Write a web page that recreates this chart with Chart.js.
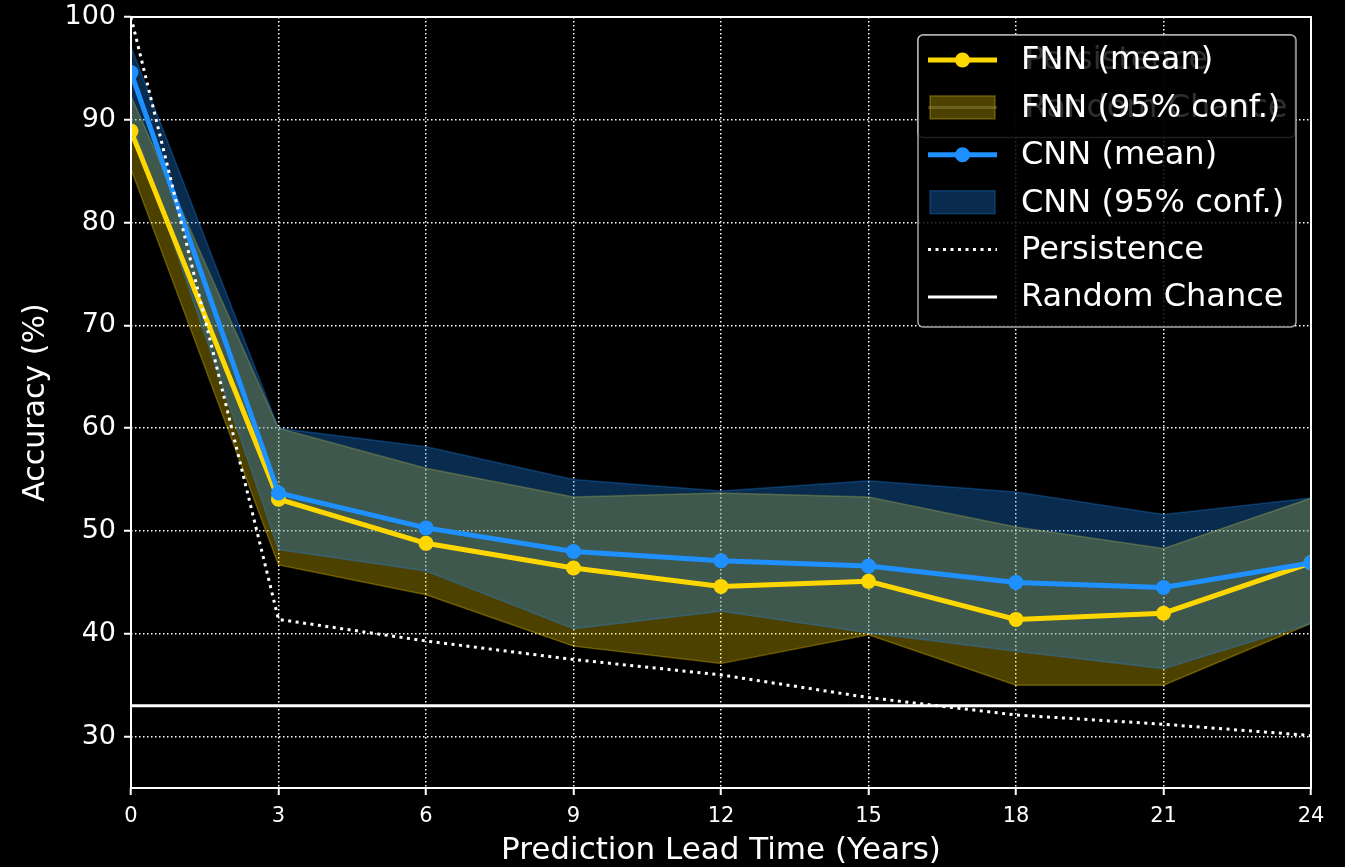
<!DOCTYPE html>
<html>
<head>
<meta charset="utf-8">
<script src="https://cdn.jsdelivr.net/npm/chart.js@4.4.1/dist/chart.umd.min.js"></script>
<style>
  html, body { margin: 0; padding: 0; background: #000; }
  #wrap { width: 1345px; height: 867px; }
</style>
</head>
<body>
<div id="wrap"><canvas id="accuracyChart" width="1345" height="867"></canvas></div>
<script>
// lead times (years) and tick labels
const leadYears = [0, 3, 6, 9, 12, 15, 18, 21, 24];
const yTicks = [30, 40, 50, 60, 70, 80, 90, 100];

// FNN accuracy (%)
const fnnMean  = [88.9, 53.1, 48.8, 46.4, 44.6, 45.1, 41.4, 42.0, 46.9];
const fnnUpper = [92.3, 60.0, 56.1, 53.3, 53.7, 53.3, 50.4, 48.3, 53.2];
const fnnLower = [85.2, 46.7, 43.8, 38.8, 37.1, 39.9, 35.0, 35.0, 41.0];

// CNN accuracy (%)
const cnnMean  = [94.6, 53.7, 50.3, 48.0, 47.1, 46.6, 45.0, 44.5, 46.9];
const cnnUpper = [97.1, 60.0, 58.2, 55.0, 53.9, 54.9, 53.8, 51.6, 53.2];
const cnnLower = [90.0, 48.2, 46.1, 40.5, 42.2, 40.1, 38.3, 36.6, 41.0];

// baselines
const persistence = [100, 41.4, 39.3, 37.5, 36.0, 33.8, 32.1, 31.2, 30.1];
const randomChance = 33.0;

const GOLD = '#FFD700';
const BLUE = '#1E90FF';
const GOLD_BAND = 'rgba(255,215,0,0.3)';
const BLUE_BAND = 'rgba(30,144,255,0.3)';

const pts = arr => arr.map((v, i) => ({x: leadYears[i], y: v}));

Chart.defaults.font.family = "'DejaVu Sans', sans-serif";
Chart.defaults.color = '#ffffff';

// legend entries, drawn like the matplotlib legend (a second, older legend sits underneath)
const ghostEntries = [
    {label: 'Persistence', kind: 'dotted', color: '#ffffff'},
    {label: 'Random Chance', kind: 'line', color: '#ffffff'}
];
const legendEntries = [
    {label: 'FNN (mean)', kind: 'marker', color: GOLD},
    {label: 'FNN (95% conf.)', kind: 'patch', color: GOLD_BAND},
    {label: 'CNN (mean)', kind: 'marker', color: BLUE},
    {label: 'CNN (95% conf.)', kind: 'patch', color: BLUE_BAND},
    {label: 'Persistence', kind: 'dotted', color: '#ffffff'},
    {label: 'Random Chance', kind: 'line', color: '#ffffff'}
];

function drawLegend(ctx, entries, left, top, right, textX, alpha) {
    const rowStep = 47.4;
    const bottom = top + 25 + rowStep * (entries.length - 1) + 30;
    ctx.save();
    ctx.beginPath();
    ctx.roundRect(left, top, right - left, bottom - top, 5);
    ctx.fillStyle = 'rgba(0,0,0,' + alpha + ')';
    ctx.fill();
    ctx.lineWidth = 1.5;
    ctx.strokeStyle = 'rgba(204,204,204,' + alpha + ')';
    ctx.stroke();
    entries.forEach((e, i) => {
        const cy = top + 25 + i * rowStep;
        const x0 = left + 10, x1 = left + 79;
        if (e.kind === 'patch') {
            ctx.fillStyle = e.color;
            ctx.fillRect(x0 + 2, cy - 11.5, x1 - x0 - 4, 23);
            ctx.strokeStyle = e.color;
            ctx.lineWidth = 1.5;
            ctx.strokeRect(x0 + 2, cy - 11.5, x1 - x0 - 4, 23);
        } else {
            ctx.beginPath();
            ctx.moveTo(x0, cy);
            ctx.lineTo(x1, cy);
            ctx.strokeStyle = e.color;
            ctx.lineWidth = e.kind === 'marker' ? 5 : 3;
            ctx.setLineDash(e.kind === 'dotted' ? [3, 4.5] : []);
            ctx.stroke();
            ctx.setLineDash([]);
            if (e.kind === 'marker') {
                ctx.beginPath();
                ctx.arc((x0 + x1) / 2, cy, 7.5, 0, Math.PI * 2);
                ctx.fillStyle = e.color;
                ctx.fill();
            }
        }
        ctx.fillStyle = '#ffffff';
        ctx.font = "32px 'DejaVu Sans'";
        ctx.textBaseline = 'middle';
        ctx.textAlign = 'left';
        ctx.fillText(e.label, textX, cy + 1);
    });
    ctx.restore();
}

const framePlugin = {
    id: 'frame',
    afterDatasetsDraw(chart) {
        const {ctx, chartArea: a} = chart;
        ctx.save();
        ctx.strokeStyle = '#ffffff';
        ctx.lineWidth = 2;
        ctx.strokeRect(a.left, a.top, a.right - a.left, a.bottom - a.top);
        ctx.restore();
    },
    afterDraw(chart) {
        const ctx = chart.ctx;
        drawLegend(ctx, ghostEntries, 918, 35, 1295, 1025, 0.8);
        drawLegend(ctx, legendEntries, 918, 35, 1296, 1021, 0.82);
    }
};

const accuracyChart = document.getElementById('accuracyChart');
new Chart(accuracyChart, {
    type: 'line',
    data: {
        datasets: [
            {
                label: 'CNN (mean)',
                data: pts(cnnMean),
                borderColor: BLUE,
                backgroundColor: BLUE,
                borderWidth: 5,
                pointRadius: 7.5,
                pointBorderWidth: 0,
                fill: false,
                order: 1
            },
            {
                label: 'FNN (mean)',
                data: pts(fnnMean),
                borderColor: GOLD,
                backgroundColor: GOLD,
                borderWidth: 5,
                pointRadius: 7.5,
                pointBorderWidth: 0,
                fill: false,
                order: 2
            },
            {
                label: 'Persistence',
                data: pts(persistence),
                borderColor: '#ffffff',
                borderWidth: 3,
                borderDash: [3, 4.5],
                pointRadius: 0,
                fill: false,
                order: 0
            },
            {
                label: 'Random Chance',
                data: [{x: leadYears[0], y: randomChance}, {x: leadYears[leadYears.length - 1], y: randomChance}],
                borderColor: '#ffffff',
                borderWidth: 3,
                pointRadius: 0,
                fill: false,
                order: 0
            },
            {
                label: 'CNN upper',
                data: pts(cnnUpper),
                borderColor: BLUE_BAND,
                backgroundColor: BLUE_BAND,
                borderWidth: 1.5,
                pointRadius: 0,
                fill: '+1',
                order: 5
            },
            {
                label: 'CNN lower',
                data: pts(cnnLower),
                borderColor: BLUE_BAND,
                borderWidth: 1.5,
                pointRadius: 0,
                fill: false,
                order: 5
            },
            {
                label: 'FNN upper',
                data: pts(fnnUpper),
                borderColor: GOLD_BAND,
                backgroundColor: GOLD_BAND,
                borderWidth: 1.5,
                pointRadius: 0,
                fill: '+1',
                order: 6
            },
            {
                label: 'FNN lower',
                data: pts(fnnLower),
                borderColor: GOLD_BAND,
                borderWidth: 1.5,
                pointRadius: 0,
                fill: false,
                order: 6
            }
        ]
    },
    options: {
        responsive: false,
        animation: false,
        layout: {
            padding: {top: 17, right: 34, left: 0, bottom: 0}
        },
        plugins: {
            legend: false,
            tooltip: {
                enabled: false
            }
        },
        scales: {
            x: {
                type: 'linear',
                min: 0,
                max: 24,
                afterBuildTicks: s => { s.ticks = leadYears.map(v => ({value: v})); },
                afterFit: s => { s.height = 79; },
                grid: {
                    color: '#ffffff',
                    lineWidth: 1.5,
                    tickLength: 7,
                    tickColor: '#ffffff',
                    tickWidth: 2,
                    tickBorderDash: []
                },
                border: {
                    display: false,
                    dash: [1.5, 2.5]
                },
                ticks: {
                    color: '#ffffff',
                    font: {size: 21},
                    padding: 9,
                    maxRotation: 0,
                    autoSkip: false
                },
                title: {
                    display: true,
                    text: 'Prediction Lead Time (Years)',
                    color: '#ffffff',
                    font: {size: 31, lineHeight: 1},
                    padding: {top: 0, bottom: 1}
                }
            },
            y: {
                min: 25,
                max: 100,
                afterBuildTicks: s => { s.ticks = yTicks.map(v => ({value: v})); },
                afterFit: s => { s.width = 131; s.paddingTop = 0; s.paddingBottom = 0; },
                grid: {
                    color: '#ffffff',
                    lineWidth: 1.5,
                    tickLength: 7,
                    tickColor: '#ffffff',
                    tickWidth: 2,
                    tickBorderDash: []
                },
                border: {
                    display: false,
                    dash: [1.5, 2.5]
                },
                ticks: {
                    color: '#ffffff',
                    font: {size: 27},
                    padding: 8
                },
                title: {
                    display: true,
                    text: 'Accuracy (%)',
                    color: '#ffffff',
                    font: {size: 30, lineHeight: 1},
                    padding: {top: 21, bottom: 0}
                }
            }
        }
    },
    plugins: [framePlugin]
});
</script>
</body>
</html>
